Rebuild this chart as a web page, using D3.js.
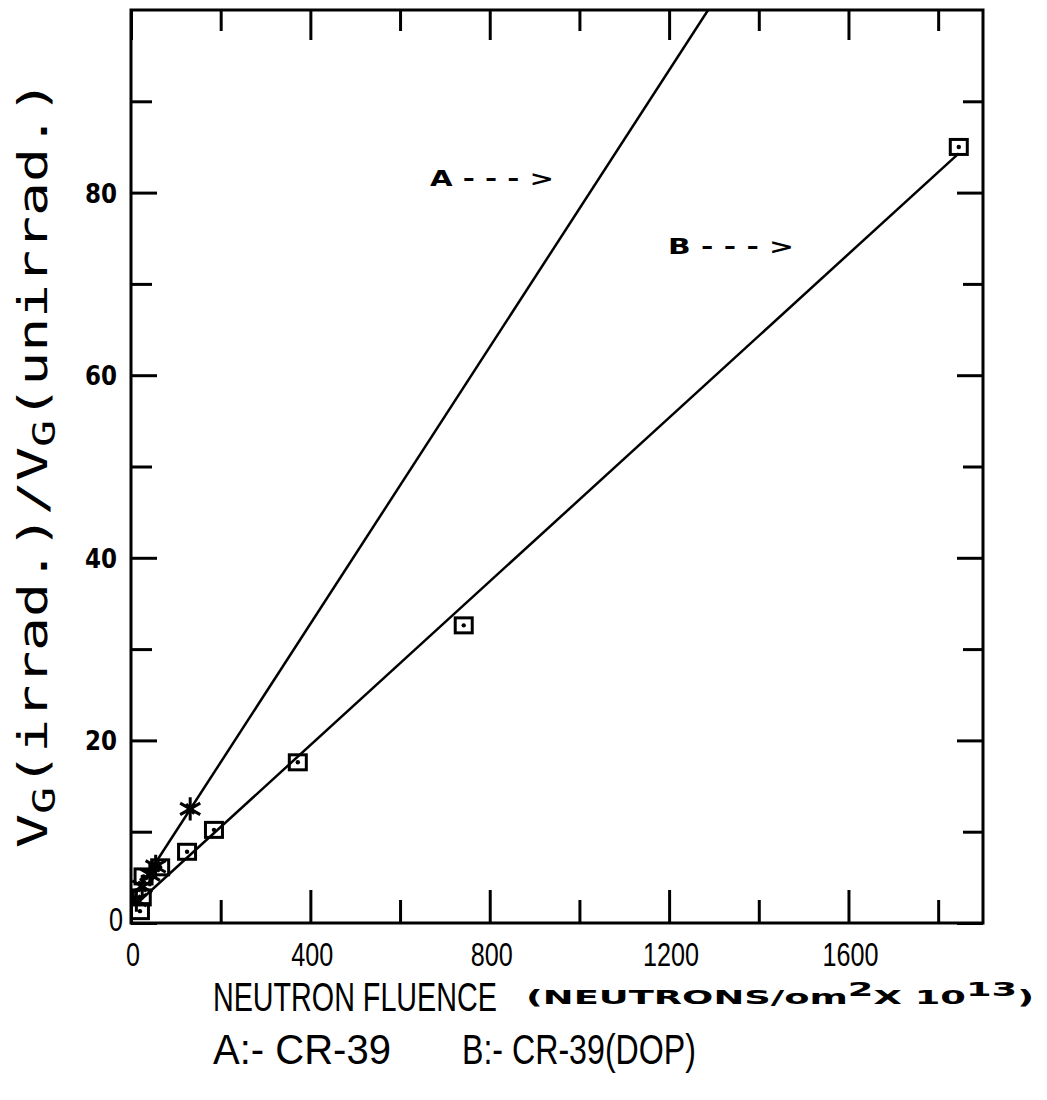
<!DOCTYPE html>
<html>
<head>
<meta charset="utf-8">
<script src="https://cdn.jsdelivr.net/npm/d3@7"></script>
<style>
  body { margin: 0; background: #fff; }
  svg { display: block; }
</style>
</head>
<body>
<div id="chart"></div>
<script>
// values
const xTicksMajor = [0, 400, 800, 1200, 1600];
const xTicksMinor = [200, 600, 1000, 1400, 1800];
const yTicksMajor = [0, 20, 40, 60, 80];
const yTicksMinor = [10, 30, 50, 70, 90];

// A: CR-39 (asterisks)
const fluenceA = [12, 25, 42, 55, 132];
const ratioA = [2.5, 4.0, 5.3, 6.2, 12.5];
// B: CR-39(DOP) (squares)
const fluenceB = [20, 24, 28, 65, 125, 185, 372, 742, 1846];
const ratioB = [1.3, 2.8, 5.1, 6.1, 7.8, 10.2, 17.6, 32.6, 85.0];
// fitted lines
const fitAx = [10, 1287];
const fitAy = [3.2, 100];
const fitBx = [10, 1846];
const fitBy = [2.0, 84.3];

const W = 1047, H = 1100;
const plotLeft = 131, plotRight = 983, plotTop = 10, plotBottom = 923;
const narrow = "Liberation Sans";

const svg = d3.select("#chart").append("svg")
  .attr("width", W).attr("height", H);

const x = d3.scaleLinear().domain([0, 1900]).range([plotLeft, plotRight]);
const y = d3.scaleLinear().domain([0, 100]).range([plotBottom, plotTop]);

// squeeze a text horizontally so it is `width` px wide, anchored at (px, py)
function narrowText(str, px, py, size, width, anchor) {
  const t = svg.append("text")
    .attr("font-family", narrow)
    .attr("font-size", size)
    .attr("text-anchor", anchor || "start")
    .text(str);
  const w = t.node().getComputedTextLength();
  t.attr("transform", `translate(${px},${py}) scale(${width / w},1)`);
  return t;
}

const majorLen = 30, minorLen = 21;

function tickAxis(axisFn, scale, values, len, transform) {
  const g = svg.append("g")
    .attr("transform", transform)
    .call(axisFn(scale).tickValues(values).tickSize(-len).tickFormat(""));
  g.select(".domain").remove();
  g.selectAll(".tick line").attr("stroke", "#000").attr("stroke-width", 3);
  return g;
}

tickAxis(d3.axisBottom, x, xTicksMajor, majorLen + 3, `translate(0,${plotBottom})`);
tickAxis(d3.axisBottom, x, xTicksMinor, minorLen + 2, `translate(0,${plotBottom})`);
tickAxis(d3.axisTop, x, xTicksMajor, majorLen, `translate(0,${plotTop})`);
tickAxis(d3.axisTop, x, xTicksMinor, minorLen, `translate(0,${plotTop})`);
tickAxis(d3.axisLeft, y, yTicksMajor, majorLen - 4, `translate(${plotLeft},0)`);
tickAxis(d3.axisLeft, y, yTicksMinor, minorLen, `translate(${plotLeft},0)`);
tickAxis(d3.axisRight, y, yTicksMajor, majorLen - 4, `translate(${plotRight},0)`);
tickAxis(d3.axisRight, y, yTicksMinor, minorLen - 1, `translate(${plotRight},0)`);

// frame
svg.append("rect")
  .attr("x", plotLeft).attr("y", plotTop)
  .attr("width", plotRight - plotLeft).attr("height", plotBottom - plotTop)
  .attr("fill", "none").attr("stroke", "#000").attr("stroke-width", 3);

// x tick labels
xTicksMajor.forEach(d => {
  narrowText(String(d), x(d) + 2, 966, 34, String(d).length * 14, "middle");
});

// y tick labels
svg.append("g").selectAll("text")
  .data(yTicksMajor.filter(d => d > 0))
  .join("text")
  .attr("x", 117)
  .attr("y", d => y(d) + 10)
  .attr("text-anchor", "end")
  .attr("font-family", "DejaVu Sans")
  .attr("font-weight", "bold")
  .attr("font-size", 26)
  .attr("textLength", 32)
  .attr("lengthAdjust", "spacingAndGlyphs")
  .text(d => d);

narrowText("0", 116, 931, 34, 14, "middle");

// y axis title
const yTitle = svg.append("text")
  .attr("transform", `translate(47,${(80 + 848) / 2}) rotate(-90)`)
  .attr("text-anchor", "middle")
  .attr("font-family", "DejaVu Sans Mono")
  .attr("font-size", 40)
  .attr("textLength", 768)
  .attr("lengthAdjust", "spacingAndGlyphs");
yTitle.append("tspan").text("V");
yTitle.append("tspan").attr("font-size", 32).attr("dy", 8).text("G");
yTitle.append("tspan").attr("dy", -8).text("(irrad.)/V");
yTitle.append("tspan").attr("font-size", 32).attr("dy", 8).text("G");
yTitle.append("tspan").attr("dy", -8).text("(unirrad.)");

// plot content
svg.append("clipPath").attr("id", "plotClip")
  .append("rect")
  .attr("x", plotLeft).attr("y", plotTop)
  .attr("width", plotRight - plotLeft).attr("height", plotBottom - plotTop);

const plot = svg.append("g").attr("clip-path", "url(#plotClip)");

const line = d3.line().x(d => x(d[0])).y(d => y(d[1]));

plot.append("path")
  .attr("d", line(d3.zip(fitAx, fitAy)))
  .attr("fill", "none").attr("stroke", "#000").attr("stroke-width", 2.5);
plot.append("path")
  .attr("d", line(d3.zip(fitBx, fitBy)))
  .attr("fill", "none").attr("stroke", "#000").attr("stroke-width", 2.5);

// squares (B)
const sq = 17;
const bPts = plot.append("g").selectAll("g")
  .data(d3.zip(fluenceB, ratioB))
  .join("g")
  .attr("transform", d => `translate(${x(d[0])},${y(d[1])})`);
bPts.append("rect")
  .attr("x", -sq / 2).attr("y", -sq / 2 + 1)
  .attr("width", sq).attr("height", sq - 2)
  .attr("fill", "none").attr("stroke", "#000").attr("stroke-width", 3);
bPts.append("circle").attr("r", 2.2).attr("fill", "#000");

// asterisks (A)
const star = d3.symbol().type(d3.symbolAsterisk).size(380);
plot.append("g").selectAll("path")
  .data(d3.zip(fluenceA, ratioA))
  .join("path")
  .attr("transform", d => `translate(${x(d[0])},${y(d[1])})`)
  .attr("d", star)
  .attr("fill", "none").attr("stroke", "#000").attr("stroke-width", 3);
plot.append("g").selectAll("path")
  .data(d3.zip(fluenceA, ratioA))
  .join("path")
  .attr("transform", d => `translate(${x(d[0])},${y(d[1])}) rotate(45)`)
  .attr("d", d3.symbol().type(d3.symbolCross).size(90))
  .attr("fill", "#000");

// curve annotations
const notes = [
  { label: "A - - - >", px: 430, py: 186, len: 124 },
  { label: "B - - - >", px: 668, py: 254, len: 126 }
];
svg.append("g").selectAll("text")
  .data(notes)
  .join("text")
  .attr("x", d => d.px).attr("y", d => d.py)
  .attr("font-family", "DejaVu Sans")
  .attr("font-weight", "bold")
  .attr("font-size", 22)
  .attr("textLength", d => d.len)
  .attr("lengthAdjust", "spacingAndGlyphs")
  .text(d => d.label);

// x axis title
narrowText("NEUTRON FLUENCE", 213, 1011, 40, 284);

const units = svg.append("text")
  .attr("x", 526).attr("y", 1004)
  .attr("font-family", "DejaVu Sans")
  .attr("font-weight", "bold")
  .attr("font-size", 19)
  .attr("textLength", 508)
  .attr("lengthAdjust", "spacingAndGlyphs");
units.append("tspan").text("(NEUTRONS/om");
units.append("tspan").attr("dy", -8).text("2");
units.append("tspan").attr("dy", 8).text("X 10");
units.append("tspan").attr("dy", -8).text("13");
units.append("tspan").attr("dy", 8).text(")");

// legend line
narrowText("A:- CR-39", 213, 1064, 42, 178);
narrowText("B:- CR-39(DOP)", 462, 1064, 42, 234);
</script>
</body>
</html>
